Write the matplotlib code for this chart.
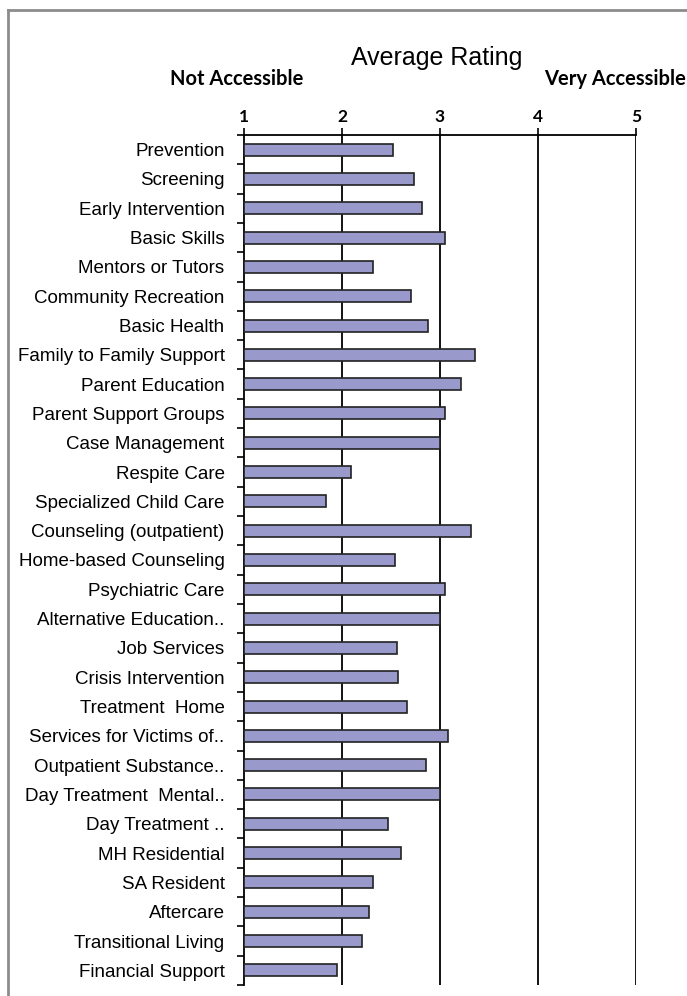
import matplotlib
matplotlib.use("Agg")
import matplotlib.pyplot as plt
from matplotlib.lines import Line2D

services = [
    "Prevention", "Screening", "Early Intervention", "Basic Skills",
    "Mentors or Tutors", "Community Recreation", "Basic Health",
    "Family to Family Support", "Parent Education", "Parent Support Groups",
    "Case Management", "Respite Care", "Specialized Child Care",
    "Counseling (outpatient)", "Home-based Counseling", "Psychiatric Care",
    "Alternative Education..", "Job Services", "Crisis Intervention",
    "Treatment  Home", "Services for Victims of..", "Outpatient Substance..",
    "Day Treatment  Mental..", "Day Treatment ..", "MH Residential",
    "SA Resident", "Aftercare", "Transitional Living", "Financial Support",
]
ratings = [
    2.52, 2.73, 2.82, 3.05, 2.32, 2.70, 2.88, 3.36, 3.21, 3.05,
    3.00, 2.09, 1.84, 3.32, 2.54, 3.05, 3.00, 2.56, 2.57, 2.66,
    3.08, 2.86, 3.00, 2.47, 2.60, 2.32, 2.28, 2.20, 1.95,
]
x_ticks = [1, 2, 3, 4, 5]

W, H = 687, 996
fig = plt.figure(figsize=(W / 100, H / 100), dpi=100)
ax = fig.add_axes([244 / W, 1 - 985 / H, (636 - 244) / W, (985 - 135) / H])

pos = list(range(len(services)))
ax.barh(pos, [r - 1 for r in ratings], left=1, height=0.41,
        color="#9999cc", edgecolor="#222222", linewidth=1.2, zorder=3)

ax.set_xlim(1, 5)
ax.set_ylim(len(services) - 0.5, -0.5)

# vertical gridlines
for v in x_ticks[1:]:
    ax.axvline(v, color="black", linewidth=1.3, zorder=2)

# x axis on top
ax.xaxis.tick_top()
ax.set_xticks(x_ticks)
ax.set_xticklabels([str(t) for t in x_ticks], fontsize=12.5, fontweight="bold",
                   family="Lato")
ax.tick_params(axis="x", length=5, width=1.2, pad=2, color="black")

# y labels at centers, ticks at boundaries
ax.set_yticks(pos)
ax.set_yticklabels(services, fontsize=13.5, family="Liberation Sans")
ax.tick_params(axis="y", which="major", length=0, pad=14)
ax.set_yticks([p - 0.5 for p in pos] + [len(services) - 0.5], minor=True)
ax.tick_params(axis="y", which="minor", length=5, width=1.2, color="black")

for s in ["right", "bottom"]:
    ax.spines[s].set_visible(False)
ax.spines["left"].set_linewidth(1.3)
ax.spines["top"].set_linewidth(1.3)

fig.text(437 / W, 1 - 58 / H, "Average Rating", ha="center", va="center",
         fontsize=18, family="Liberation Sans")
fig.text(237 / W, 1 - 79 / H, "Not Accessible", ha="center", va="center",
         fontsize=14.5, fontweight="bold", family="Lato")
fig.text(686 / W, 1 - 79 / H, "Very Accessible", ha="right", va="center",
         fontsize=14.5, fontweight="bold", family="Lato")

# gray frame (left and top edges)
fig.add_artist(Line2D([8 / W, 8 / W], [0, 1 - 10 / H], color="#8c8c8c",
                      linewidth=2, transform=fig.transFigure))
fig.add_artist(Line2D([8 / W, 1], [1 - 10 / H, 1 - 10 / H], color="#8c8c8c",
                      linewidth=2, transform=fig.transFigure))

plt.savefig("out.png", dpi=100)
